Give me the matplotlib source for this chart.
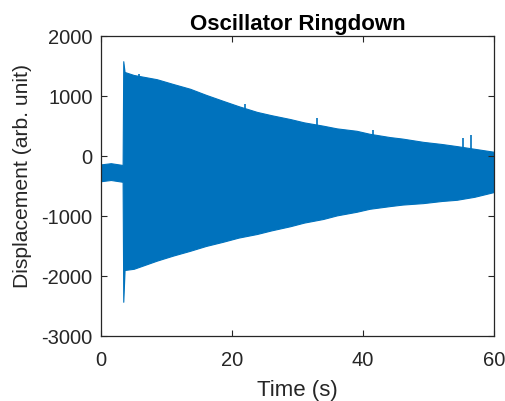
import numpy as np
import matplotlib.pyplot as plt

plt.rcParams['font.family'] = ['Liberation Sans', 'DejaVu Sans']
plt.rcParams['axes.unicode_minus'] = False

# envelope of the ringdown
time_s = [0, 1.5, 3.3, 3.4, 3.6, 5, 8.5, 11, 13.6, 16, 18.6, 21, 23.8, 26,
          28.9, 31, 33.9, 36, 39, 41, 44.1, 46, 49.2, 52, 54.3, 57, 60]
upper = [-140, -120, -150, 1580, 1400, 1350, 1280, 1200, 1120, 1020, 920,
         830, 735, 680, 615, 560, 505, 460, 420, 370, 315, 290, 235, 200,
         165, 120, 70]
lower = [-420, -400, -430, -2430, -1900, -1880, -1745, -1660, -1580, -1500,
         -1430, -1360, -1300, -1240, -1170, -1110, -1050, -990, -930, -880,
         -835, -810, -785, -750, -730, -680, -600]

# isolated spikes above the envelope
spike_t = [5.8, 22.0, 32.9, 41.5, 55.2, 56.5]
spike_top = [1370, 870, 635, 425, 300, 350]

blue = '#0072BD'
txt = '#262626'

fig = plt.figure(figsize=(5.06, 4.02), dpi=100)
ax = fig.add_axes([0.1996, 0.1617, 0.7768, 0.7463])

ax.fill_between(time_s, lower, upper, color=blue, linewidth=0.8, edgecolor=blue)
ax.vlines(spike_t, 0, spike_top, color=blue, linewidth=1.2)

ax.set_xlim(0, 60)
ax.set_ylim(-3000, 2000)
ax.set_xticks([0, 20, 40, 60])
ax.set_yticks([-3000, -2000, -1000, 0, 1000, 2000])
ax.tick_params(direction='in', length=4, width=0.8, top=True, right=True,
               labelsize=14.5, colors=txt)
ax.tick_params(axis='x', pad=10)
ax.tick_params(axis='y', pad=6)
for s in ax.spines.values():
    s.set_linewidth(0.9)
    s.set_color(txt)

ax.set_title('Oscillator Ringdown', fontsize=16, fontweight='bold', pad=5)
ax.set_xlabel('Time (s)', fontsize=16, color=txt, labelpad=7)
ax.set_ylabel('Displacement (arb. unit)', fontsize=15.2, color=txt)
ax.yaxis.set_label_coords(-0.175, 0.537)

fig.savefig('out.png', dpi=100)
